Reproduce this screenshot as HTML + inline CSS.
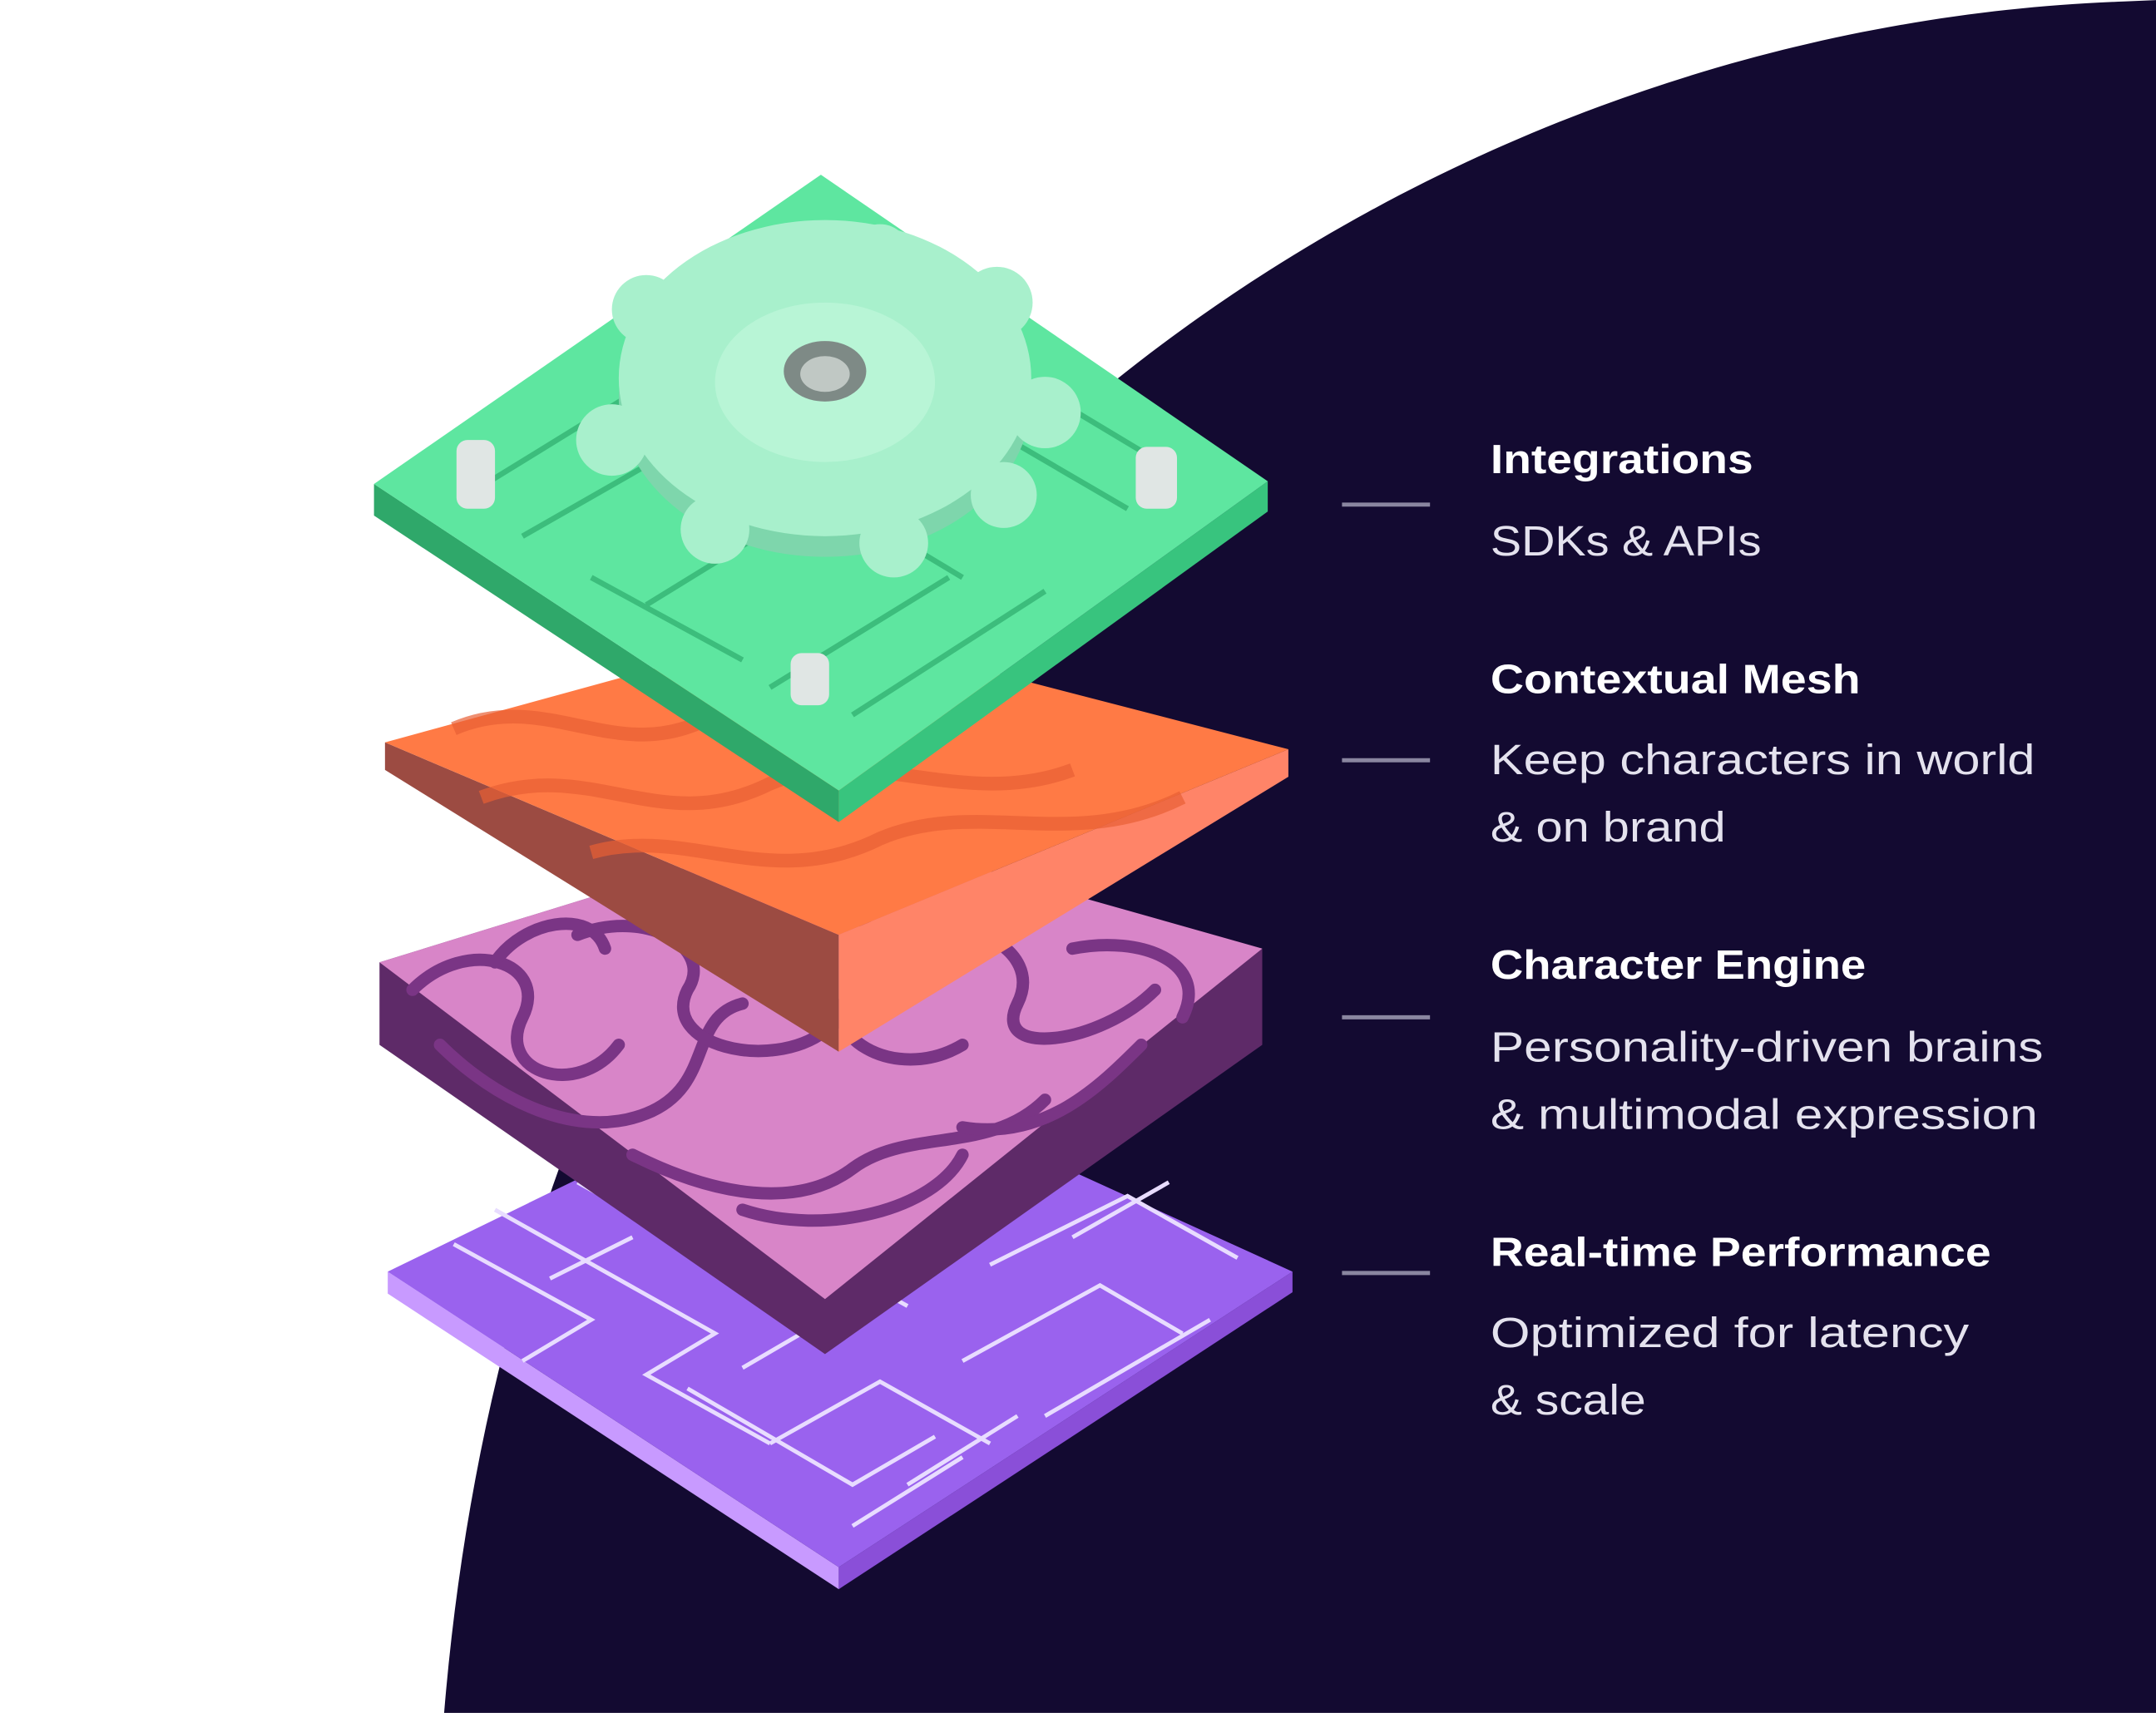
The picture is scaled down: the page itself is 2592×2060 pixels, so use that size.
<!DOCTYPE html>
<html><head><meta charset="utf-8"><style>
html,body{margin:0;padding:0;background:#fff;}
svg{display:block;}
text{font-family:"Liberation Sans",Arial,sans-serif;}
</style></head><body>
<svg width="2592" height="2060" viewBox="0 0 1568 1246" xmlns="http://www.w3.org/2000/svg">
<rect width="1568" height="1246" fill="#fff"/>
<path d="M1545,1 C1000,20 390,430 323,1246 L1568,1246 L1568,0 Z" fill="#130a31"/>

<!-- purple base -->
<polygon points="282,925 610,1140 610,1156 282,941" fill="#c89aff"/>
<polygon points="610,1140 940,925 940,940 610,1156" fill="#8a4fd8"/>
<polygon points="282,925 600,770 940,925 610,1140" fill="#9a62ee"/>
<g stroke="#e8dcff" stroke-width="3" fill="none">
<path d="M330,905 L430,960 L380,990 M360,880 L520,970 L470,1000 L560,1050 M420,860 L600,960 L540,995 M470,845 L660,950 M500,1010 L620,1080 L680,1045 M560,1050 L640,1005 L720,1050 M620,1110 L700,1060 M700,990 L800,935 L860,970 M760,1030 L880,960 M720,920 L820,870 L900,915 M640,880 L760,820 M780,900 L850,860 M400,930 L460,900 M660,1080 L740,1030"/>
</g>

<!-- pink brain -->
<polygon points="276,700 600,600 918,690 918,760 600,985 276,760" fill="#5e2a68"/>
<polygon points="276,700 600,600 918,690 600,945" fill="#d885c8"/>
<g stroke="#7a3585" stroke-width="9" fill="none" stroke-linecap="round">
<path d="M300,720 C340,680 400,700 380,740 C360,780 420,800 450,760"/>
<path d="M320,760 C360,800 420,830 470,810 C520,790 500,740 540,730"/>
<path d="M420,680 C470,660 520,690 500,720 C480,760 560,780 600,750"/>
<path d="M560,650 C620,640 660,690 620,720 C590,750 650,790 700,760"/>
<path d="M460,840 C520,870 580,880 620,850 C660,820 720,840 760,800"/>
<path d="M640,680 C700,660 760,690 740,730 C720,770 800,760 840,720"/>
<path d="M780,690 C830,680 880,700 860,740"/>
<path d="M540,880 C600,900 680,880 700,840 M700,820 C760,830 800,790 830,760"/>
<path d="M360,700 C380,670 430,660 440,690"/>
</g>

<!-- orange mesh -->
<polygon points="280,540 610,680 610,765 280,560" fill="#9c4b42"/>
<polygon points="610,680 937,545 937,565 610,765" fill="#ff8468"/>
<polygon points="280,540 590,455 937,545 610,680" fill="#ff7a45"/>
<path d="M330,530 C400,500 450,560 520,520 C580,490 640,540 700,510 M350,580 C430,550 480,610 560,570 C630,540 700,590 780,560 M430,620 C500,600 560,650 640,610 C710,580 780,620 860,580" stroke="#e85f35" stroke-width="10" fill="none" opacity=".7"/>

<!-- green top -->
<polygon points="272,352 610,575 610,598 272,375" fill="#2fa86a"/>
<polygon points="610,575 922,350 922,372 610,598" fill="#38c47e"/>
<polygon points="272,352 597,127 922,350 610,575" fill="#5ee6a0"/>
<g stroke="#3cbd7c" stroke-width="4" fill="none">
<path d="M340,360 L470,280 L560,330 M380,390 L520,310 M470,440 L600,360 L700,420 M560,500 L690,420 M700,300 L820,370 M750,280 L850,340 M430,420 L540,480 M620,520 L760,430"/>
</g>
<ellipse cx="600" cy="290" rx="150" ry="115" fill="#7ed6ac"/>
<ellipse cx="600" cy="275" rx="150" ry="115" fill="#a8f0cc"/>
<g fill="#a8f0cc">
<circle cx="470" cy="225" r="25"/><circle cx="550" cy="190" r="22"/><circle cx="640" cy="185" r="22"/><circle cx="725" cy="220" r="26"/>
<circle cx="760" cy="300" r="26"/><circle cx="445" cy="320" r="26"/><circle cx="520" cy="385" r="25"/><circle cx="650" cy="395" r="25"/><circle cx="730" cy="360" r="24"/>
</g>
<ellipse cx="600" cy="278" rx="80" ry="58" fill="#b8f5d6"/>
<ellipse cx="600" cy="270" rx="30" ry="22" fill="#7e8a86"/>
<ellipse cx="600" cy="272" rx="18" ry="13" fill="#c0c8c4"/>
<g fill="#e0e6e4"><rect x="332" y="320" width="28" height="50" rx="8"/><rect x="826" y="325" width="30" height="45" rx="8"/><rect x="575" y="475" width="28" height="38" rx="8"/></g>

<!-- labels -->
<g stroke="#8a86a0" stroke-width="3"><line x1="976" y1="367" x2="1040" y2="367"/><line x1="976" y1="553" x2="1040" y2="553"/><line x1="976" y1="740" x2="1040" y2="740"/><line x1="976" y1="926" x2="1040" y2="926"/></g>
<g fill="#fff">
<text x="1084" y="344" font-size="30" font-weight="bold" textLength="191" lengthAdjust="spacingAndGlyphs">Integrations</text>
<text x="1084" y="404" font-size="31" fill="#e4e2ee" textLength="197" lengthAdjust="spacingAndGlyphs">SDKs &amp; APIs</text>
<text x="1084" y="504" font-size="30" font-weight="bold" textLength="269" lengthAdjust="spacingAndGlyphs">Contextual Mesh</text>
<text x="1084" y="563" font-size="31" fill="#e4e2ee" textLength="396" lengthAdjust="spacingAndGlyphs">Keep characters in world</text>
<text x="1084" y="612" font-size="31" fill="#e4e2ee" textLength="171" lengthAdjust="spacingAndGlyphs">&amp; on brand</text>
<text x="1084" y="712" font-size="30" font-weight="bold" textLength="273" lengthAdjust="spacingAndGlyphs">Character Engine</text>
<text x="1084" y="772" font-size="31" fill="#e4e2ee" textLength="402" lengthAdjust="spacingAndGlyphs">Personality-driven brains</text>
<text x="1084" y="821" font-size="31" fill="#e4e2ee" textLength="398" lengthAdjust="spacingAndGlyphs">&amp; multimodal expression</text>
<text x="1084" y="921" font-size="30" font-weight="bold" textLength="364" lengthAdjust="spacingAndGlyphs">Real-time Performance</text>
<text x="1084" y="980" font-size="31" fill="#e4e2ee" textLength="348" lengthAdjust="spacingAndGlyphs">Optimized for latency</text>
<text x="1084" y="1029" font-size="31" fill="#e4e2ee" textLength="113" lengthAdjust="spacingAndGlyphs">&amp; scale</text>
</g>
</svg>
</body></html>
